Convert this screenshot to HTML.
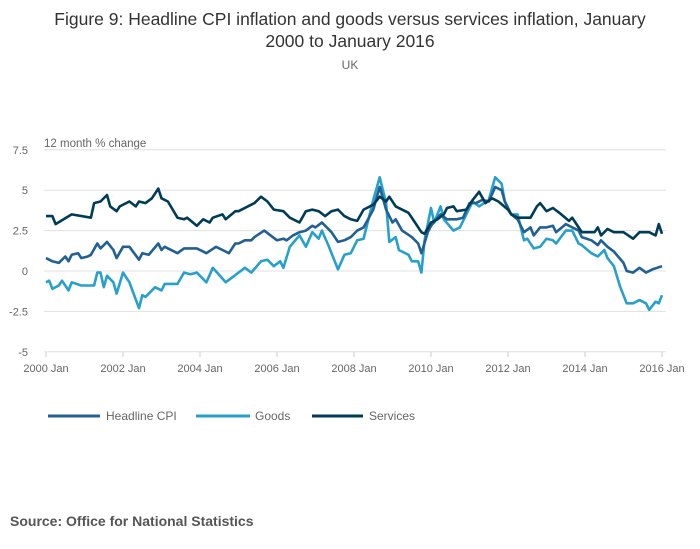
<!DOCTYPE html>
<html><head><meta charset="utf-8"><style>
body{margin:0;background:#fff;width:700px;height:549px;overflow:hidden;font-family:"Liberation Sans",sans-serif}
</style></head><body>
<svg width="700" height="549" style="position:absolute;left:0;top:0">
<text x="350" y="25" text-anchor="middle" font-size="17.5" fill="#333">Figure 9: Headline CPI inflation and goods versus services inflation, January</text>
<text x="350" y="47" text-anchor="middle" font-size="17.5" fill="#333">2000 to January 2016</text>
<text x="350" y="69" text-anchor="middle" font-size="12" fill="#666">UK</text>
<text x="44" y="147" font-size="11.5" fill="#666">12 month % change</text>
<g id="grid"></g><g id="series"></g>
<g>
<line x1="48" y1="416" x2="100" y2="416" stroke="#206095" stroke-width="3"/>
<text x="106" y="420" font-size="12" fill="#666">Headline CPI</text>
<line x1="196" y1="416" x2="250" y2="416" stroke="#27a0cc" stroke-width="3"/>
<text x="255" y="420" font-size="12" fill="#666">Goods</text>
<line x1="312" y1="416" x2="363" y2="416" stroke="#003c57" stroke-width="3"/>
<text x="369" y="420" font-size="12" fill="#666">Services</text>
</g>
<text x="10" y="526" font-size="14" font-weight="bold" fill="#555">Source: Office for National Statistics</text>
</svg>
<script>
const yTicks=[7.5,5,2.5,0,-2.5,-5];
const yTickLabels=["7.5","5","2.5","0","-2.5","-5"];
const xTickMonths=[0,24,48,72,96,120,144,168,192];
const xTickLabels=["2000 Jan","2002 Jan","2004 Jan","2006 Jan","2008 Jan","2010 Jan","2012 Jan","2014 Jan","2016 Jan"];
const servicesMonths=[0,2,3,8,14,15,17,19,20,22,23,26,28,29,31,33,35,36,38,41,43,44,47,49,51,52,55,56,59,60,64,65,67,69,71,74,76,79,81,83,85,87,89,91,93,95,97,99,102,104,106,107,109,113,115,117,118,120,122,124,125,127,128,131,133,135,137,139,141,144,145,147,149,151,153,154,156,158,160,163,164,166,167,171,172,173,175,177,180,183,185,188,190,191,192];
const servicesValues=[3.4,3.4,2.9,3.5,3.3,4.2,4.3,4.7,4.0,3.7,4.0,4.3,4.0,4.3,4.2,4.5,5.1,4.5,4.3,3.3,3.2,3.3,2.8,3.2,3.0,3.3,3.5,3.2,3.7,3.7,4.1,4.2,4.6,4.3,3.8,3.7,3.3,3.0,3.7,3.8,3.7,3.4,3.7,3.8,3.4,3.2,3.1,3.8,4.1,4.6,4.3,4.6,4.0,3.6,3.0,2.4,2.3,3.0,3.2,3.5,3.9,4.0,3.7,3.8,4.4,4.9,4.2,4.5,4.3,3.8,3.5,3.3,3.3,3.3,4.0,4.2,3.7,3.9,3.6,3.1,3.3,2.7,2.4,2.4,2.7,2.2,2.6,2.4,2.4,2.0,2.4,2.4,2.2,2.9,2.3];
const cpiMonths=[0,2,4,6,7,8,10,11,13,14,16,17,19,21,22,24,26,29,30,32,35,36,37,41,43,47,49,50,53,55,57,59,60,62,64,65,68,70,72,74,75,77,79,81,83,84,86,89,91,93,95,97,99,102,104,106,108,109,111,114,116,117,119,120,123,125,128,130,132,134,136,138,140,142,143,145,147,149,151,152,154,156,158,159,162,164,166,167,170,172,173,175,177,180,181,183,185,187,189,192];
const cpiValues=[0.8,0.6,0.5,0.9,0.6,1.0,1.1,0.8,0.9,1.0,1.7,1.4,1.8,1.3,0.8,1.5,1.5,0.7,1.1,1.0,1.7,1.3,1.5,1.1,1.4,1.4,1.2,1.1,1.5,1.3,1.1,1.7,1.7,1.9,1.9,2.1,2.5,2.2,1.9,2.0,1.9,2.2,2.4,2.5,2.8,2.7,3.0,2.4,1.8,1.9,2.1,2.5,2.7,3.8,5.2,3.8,3.0,3.2,2.5,2.1,1.7,1.1,2.4,2.8,3.5,3.2,3.2,3.3,4.2,4.2,4.4,4.3,5.2,5.0,4.3,3.5,3.2,2.4,2.7,2.2,2.7,2.7,2.8,2.4,2.9,2.7,2.5,2.1,1.9,1.6,1.9,1.5,1.2,0.5,0.0,-0.1,0.2,-0.1,0.1,0.3];
const goodsMonths=[0,1,2,4,5,7,8,11,13,15,16,17,18,19,21,22,24,26,29,30,31,34,36,37,41,43,45,47,50,52,56,60,62,64,67,69,71,73,74,76,79,81,83,85,86,88,91,93,95,97,99,102,104,106,107,109,110,113,114,116,117,118,120,121,123,124,127,129,131,133,135,138,140,142,143,145,147,149,150,152,154,156,158,159,162,164,166,167,170,172,174,175,177,179,181,183,185,187,188,190,191,192];
const goodsValues=[-0.7,-0.6,-1.1,-0.9,-0.6,-1.2,-0.7,-0.9,-0.9,-0.9,-0.1,-0.1,-1.0,-0.3,-0.7,-1.4,-0.1,-0.7,-2.3,-1.5,-1.6,-1.0,-1.2,-0.8,-0.8,-0.1,-0.2,-0.1,-0.7,0.2,-0.7,-0.1,0.2,-0.1,0.6,0.7,0.3,0.6,0.2,1.5,2.2,1.5,2.4,2.0,2.5,1.6,0.1,1.0,1.1,1.9,2.0,4.4,5.8,4.2,1.8,2.1,1.3,1.0,0.6,0.6,-0.1,1.9,3.9,3.0,4.0,3.2,2.5,2.7,3.5,4.3,4.0,4.4,5.8,5.4,4.3,3.5,3.5,1.9,2.0,1.4,1.5,2.0,1.9,1.7,2.5,2.5,1.7,1.6,1.1,0.9,1.3,0.8,0.3,-1.0,-2.0,-2.0,-1.8,-2.0,-2.4,-1.9,-2.0,-1.5];

const NS="http://www.w3.org/2000/svg";
const X0=46,X1=662,Y0=271,PX=16.16;
const xs=m=>X0+(X1-X0)*m/192;
const ys=v=>Y0-v*PX;
const grid=document.getElementById('grid');
yTicks.forEach((t,i)=>{
 const l=document.createElementNS(NS,'line');
 l.setAttribute('x1',44);l.setAttribute('x2',666);l.setAttribute('y1',ys(t));l.setAttribute('y2',ys(t));
 l.setAttribute('stroke','#e0e0e0');l.setAttribute('stroke-width',1);
 
 
 grid.appendChild(l);
 const tx=document.createElementNS(NS,'text');
 tx.setAttribute('x',28);tx.setAttribute('y',ys(t)+4);tx.setAttribute('text-anchor','end');
 tx.setAttribute('font-size','11');tx.setAttribute('fill','#666');tx.textContent=yTickLabels[i];
 
 
 grid.appendChild(tx);
});
xTickMonths.forEach((m,i)=>{
 const l=document.createElementNS(NS,'line');
 l.setAttribute('x1',xs(m));l.setAttribute('x2',xs(m));l.setAttribute('y1',352);l.setAttribute('y2',357);
 l.setAttribute('stroke','#ccc');
 
 
 grid.appendChild(l);
 const tx=document.createElementNS(NS,'text');
 tx.setAttribute('x',xs(m));tx.setAttribute('y',372);tx.setAttribute('text-anchor','middle');
 tx.setAttribute('font-size','11');tx.setAttribute('fill','#666');tx.textContent=xTickLabels[i];
 
 
 grid.appendChild(tx);
});
const ser=document.getElementById('series');
function draw(ms,vs,color,name){
 const p=document.createElementNS(NS,'polyline');
 p.setAttribute('points',ms.map((m,i)=>xs(m).toFixed(1)+','+ys(vs[i]).toFixed(1)).join(' '));
 p.setAttribute('fill','none');p.setAttribute('stroke',color);p.setAttribute('stroke-width',2.6);
 p.setAttribute('stroke-linejoin','round');
 
 
 ser.appendChild(p);
}
draw(goodsMonths,goodsValues,'#27a0cc','goods-line');
draw(cpiMonths,cpiValues,'#206095','headline-cpi-line');
draw(servicesMonths,servicesValues,'#003c57','services-line');
</script>
</body></html>
